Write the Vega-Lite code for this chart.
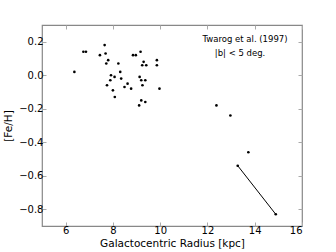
{
  "$schema": "https://vega.github.io/schema/vega-lite/v6.json",
  "autosize": {"type": "none"},
  "padding": {"left": 42, "top": 25, "right": 34, "bottom": 26},
  "width": 260,
  "height": 201,
  "config": {
    "font": "DejaVu Sans",
    "view": {"stroke": "#888888", "strokeWidth": 1.2},
    "axis": {
      "domain": false,
      "grid": false,
      "tickSize": -4,
      "tickColor": "#aaaaaa",
      "labelFont": "DejaVu Sans",
      "labelFontSize": 10,
      "labelColor": "#000000",
      "labelPadding": 3,
      "titleFont": "DejaVu Sans",
      "titleFontSize": 10.5,
      "titleFontWeight": "normal",
      "titleColor": "#000000"
    }
  },
  "datasets": {
    "stars": [
      {"r": 6.37, "feh": 0.02},
      {"r": 6.75, "feh": 0.14},
      {"r": 6.86, "feh": 0.14},
      {"r": 7.45, "feh": 0.12},
      {"r": 7.65, "feh": 0.18},
      {"r": 7.69, "feh": 0.13},
      {"r": 7.8, "feh": 0.09},
      {"r": 7.72, "feh": 0.07},
      {"r": 8.23, "feh": 0.07},
      {"r": 7.92, "feh": 0.0},
      {"r": 7.89, "feh": -0.03},
      {"r": 8.07, "feh": -0.01},
      {"r": 7.75, "feh": -0.06},
      {"r": 8.0, "feh": -0.09},
      {"r": 8.08, "feh": -0.13},
      {"r": 8.31, "feh": 0.02},
      {"r": 8.35, "feh": -0.02},
      {"r": 8.62, "feh": -0.05},
      {"r": 8.49, "feh": -0.07},
      {"r": 8.77, "feh": -0.08},
      {"r": 8.85, "feh": 0.12},
      {"r": 8.97, "feh": 0.12},
      {"r": 9.17, "feh": 0.14},
      {"r": 9.3, "feh": 0.08},
      {"r": 9.24, "feh": 0.06},
      {"r": 9.41, "feh": 0.06},
      {"r": 9.86, "feh": 0.09},
      {"r": 9.86, "feh": 0.06},
      {"r": 9.13, "feh": -0.01},
      {"r": 9.2, "feh": -0.03},
      {"r": 9.37, "feh": -0.03},
      {"r": 9.25, "feh": -0.06},
      {"r": 9.97, "feh": -0.08},
      {"r": 9.2, "feh": -0.15},
      {"r": 9.37, "feh": -0.16},
      {"r": 9.11, "feh": -0.18},
      {"r": 12.38, "feh": -0.18},
      {"r": 12.97, "feh": -0.24},
      {"r": 13.73, "feh": -0.46},
      {"r": 13.28, "feh": -0.54},
      {"r": 14.89, "feh": -0.83}
    ],
    "segment": [
      {"r": 13.28, "feh": -0.54},
      {"r": 14.89, "feh": -0.83}
    ],
    "labels": [
      {"r": 13.59, "feh": 0.217, "text": "Twarog et al. (1997)"},
      {"r": 13.38, "feh": 0.133, "text": "|b| < 5 deg."}
    ]
  },
  "layer": [
    {
      "data": {"name": "segment"},
      "mark": {"type": "line", "color": "#000000", "strokeWidth": 1},
      "encoding": {
        "x": {"field": "r", "type": "quantitative", "scale": {"domain": [5, 16], "nice": false, "zero": false},
              "axis": {"title": "Galactocentric Radius [kpc]", "values": [6, 8, 10, 12, 14, 16], "titlePadding": 3}},
        "y": {"field": "feh", "type": "quantitative", "scale": {"domain": [-0.9, 0.3], "nice": false, "zero": false},
              "axis": {"title": "[Fe/H]", "values": [-0.8, -0.6, -0.4, -0.2, 0.0, 0.2], "format": ".1f", "titlePadding": 5}}
      }
    },
    {
      "data": {"name": "stars"},
      "mark": {"type": "point", "filled": true, "color": "#000000", "size": 7, "opacity": 1},
      "encoding": {
        "x": {"field": "r", "type": "quantitative", "axis": null},
        "y": {"field": "feh", "type": "quantitative", "axis": null}
      }
    },
    {
      "data": {"name": "labels"},
      "mark": {"type": "text", "fontSize": 8.5, "color": "#000000", "align": "center", "baseline": "middle"},
      "encoding": {
        "x": {"field": "r", "type": "quantitative", "axis": {"orient": "top", "labels": false, "title": null, "values": [6, 8, 10, 12, 14, 16]}},
        "y": {"field": "feh", "type": "quantitative", "axis": {"orient": "right", "labels": false, "title": null, "values": [-0.8, -0.6, -0.4, -0.2, 0.0, 0.2]}},
        "text": {"field": "text"}
      }
    }
  ],
  "resolve": {"axis": {"x": "independent", "y": "independent"}}
}
